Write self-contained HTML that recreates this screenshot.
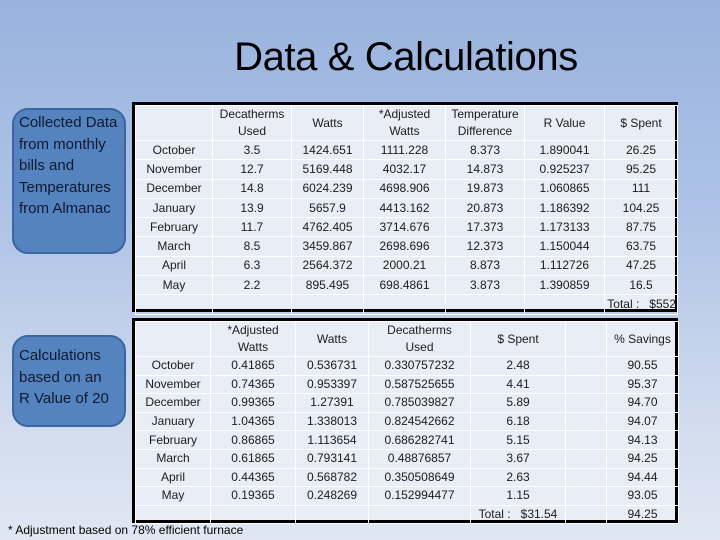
<!DOCTYPE html>
<html><head><meta charset="utf-8"><style>
html,body{margin:0;padding:0}
body{width:720px;height:540px;position:relative;overflow:hidden;font-family:"Liberation Sans",sans-serif;background:linear-gradient(180deg,#99b3df 0%,#aec3e6 40%,#d3ddef 80%,#e0e7f3 100%);}
.title{position:absolute;left:0;width:720px;top:35px;text-align:center;padding-left:92px;box-sizing:border-box;font-size:40px;letter-spacing:-0.4px;color:#000}
.box{position:absolute;left:12px;width:114px;background:#5583c0;border:2px solid #3c66a1;border-radius:16px;box-sizing:border-box}
.boxtext{position:absolute;left:19px;font-size:15px;line-height:21.6px;color:#0e1a2c;white-space:nowrap}
.tw{position:absolute;left:132px;width:546px;border:3px solid #000;box-sizing:border-box;background:#e9edf5}
table{border-collapse:collapse;width:100%;height:100%;table-layout:fixed}
td{border:1px solid #fff;text-align:center;font-size:12px;color:#1b1b1b;padding:0;white-space:nowrap;line-height:17px}
.foot{position:absolute;left:8px;top:523px;font-size:12px;color:#000}
</style></head><body>
<div class="title">Data &amp; Calculations</div>

<div class="box" style="top:108px;height:146px"></div>
<div class="boxtext" style="top:112px">Collected Data<br>from monthly<br>bills and<br>Temperatures<br>from Almanac</div>

<div class="box" style="top:335px;height:92px"></div>
<div class="boxtext" style="top:345px">Calculations<br>based on an<br>R Value of 20</div>

<div class="tw" id="t1w" style="top:102px;height:210px"></div>
<div class="tw" id="t2w" style="top:318px;height:205px"></div>

<div class="foot">* Adjustment based on 78% efficient furnace</div>

<script>
const months=["October","November","December","January","February","March","April","May"];
const t1Headers=["","Decatherms<br>Used","Watts","*Adjusted<br>Watts","Temperature<br>Difference","R Value","$ Spent"];
const t1Dec=["3.5","12.7","14.8","13.9","11.7","8.5","6.3","2.2"];
const t1Watts=["1424.651","5169.448","6024.239","5657.9","4762.405","3459.867","2564.372","895.495"];
const t1Adj=["1111.228","4032.17","4698.906","4413.162","3714.676","2698.696","2000.21","698.4861"];
const t1Temp=["8.373","14.873","19.873","20.873","17.373","12.373","8.873","3.873"];
const t1R=["1.890041","0.925237","1.060865","1.186392","1.173133","1.150044","1.112726","1.390859"];
const t1Spent=["26.25","95.25","111","104.25","87.75","63.75","47.25","16.5"];
const t1Widths=[77,79,72,82,79,80,73];
const t2Headers=["","*Adjusted<br>Watts","Watts","Decatherms<br>Used","$ Spent","","% Savings"];
const t2Adj=["0.41865","0.74365","0.99365","1.04365","0.86865","0.61865","0.44365","0.19365"];
const t2Watts=["0.536731","0.953397","1.27391","1.338013","1.113654","0.793141","0.568782","0.248269"];
const t2Dec=["0.330757232","0.587525655","0.785039827","0.824542662","0.686282741","0.48876857","0.350508649","0.152994477"];
const t2Spent=["2.48","4.41","5.89","6.18","5.15","3.67","2.63","1.15"];
const t2Sav=["90.55","95.37","94.70","94.07","94.13","94.25","94.44","93.05"];
const t2Widths=[75,85,73,102,95,41,72];

function build(wrapId,headers,cols,widths,lastRow,headH,rowH){
  const t=document.createElement('table');
  const cg=document.createElement('colgroup');
  widths.forEach(w=>{const c=document.createElement('col');c.style.width=w+'px';cg.appendChild(c);});
  t.appendChild(cg);
  const hr=document.createElement('tr');hr.style.height=headH+'px';
  
  
  headers.forEach(h=>{const td=document.createElement('td');td.innerHTML=h;
    
    
    hr.appendChild(td);});
  t.appendChild(hr);
  months.forEach((m,i)=>{
    const tr=document.createElement('tr');tr.style.height=rowH+'px';
    
    
    const cells=[m].concat(cols.map(c=>c===null?'':c[i]));
    cells.forEach(v=>{const td=document.createElement('td');td.textContent=v;
      
      
      tr.appendChild(td);});
    t.appendChild(tr);
  });
  const tr=document.createElement('tr');tr.style.height=rowH+'px';
  
  
  lastRow.forEach(v=>{const td=document.createElement('td');td.innerHTML=v;
    
    
    tr.appendChild(td);});
  t.appendChild(tr);
  document.getElementById(wrapId).appendChild(t);
}
build('t1w',t1Headers,[t1Dec,t1Watts,t1Adj,t1Temp,t1R,t1Spent],t1Widths,
  ["","","","","","",'<span style="display:block;text-align:right;padding-right:1px">Total : &nbsp;&nbsp;$552</span>'],34,19.3);
build('t2w',t2Headers,[t2Adj,t2Watts,t2Dec,t2Spent,null,t2Sav],t2Widths,
  ["","","","","Total : &nbsp;&nbsp;$31.54","","94.25"],35,18.6);
</script>
</body></html>
